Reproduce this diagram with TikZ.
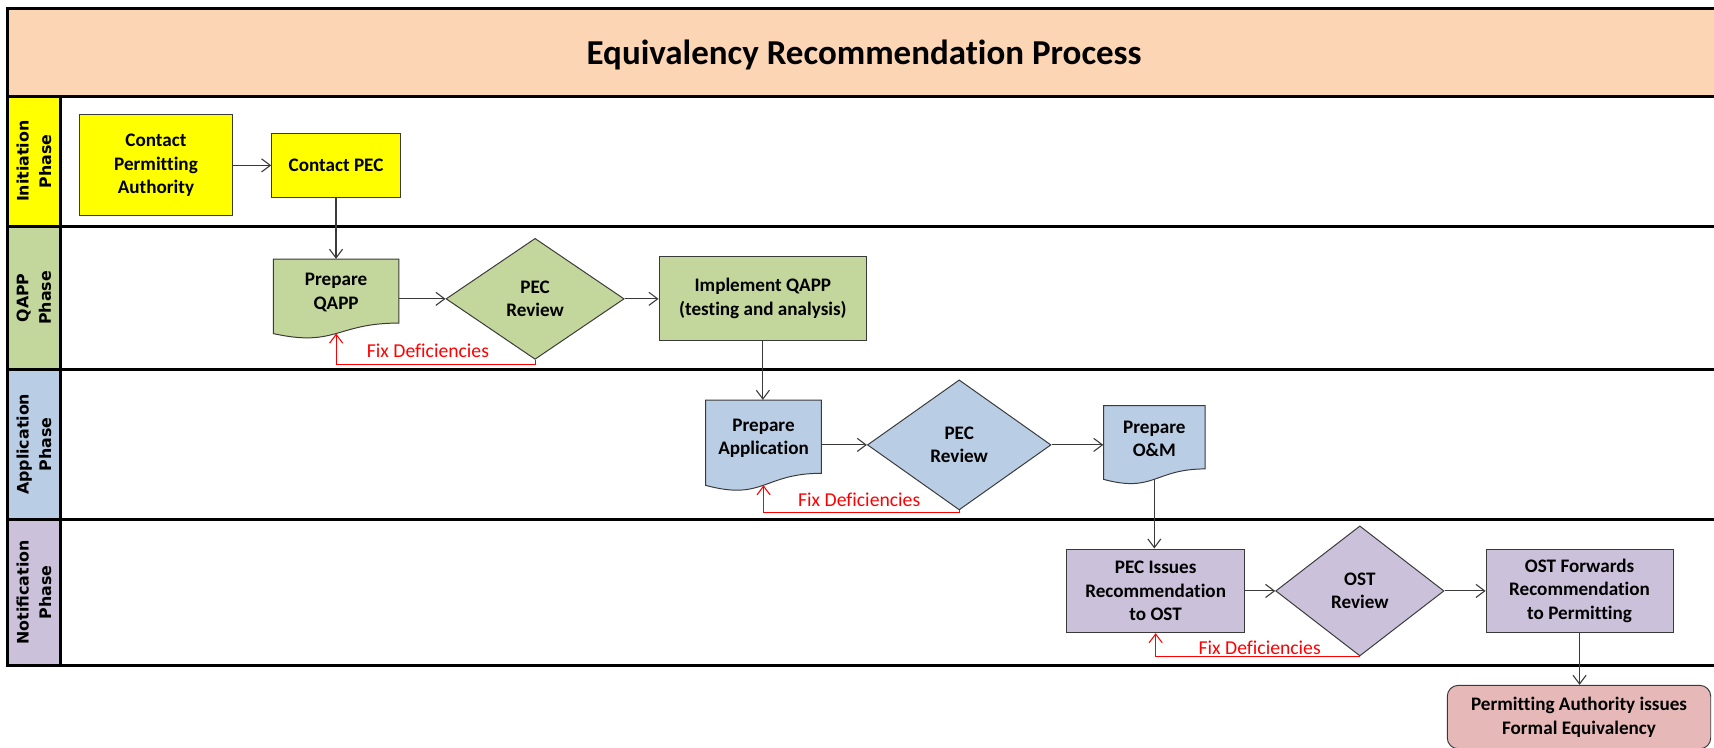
\documentclass[tikz,border=0pt]{standalone}
\usepackage{fontspec}
\setmainfont[Ligatures=NoCommon]{Carlito}
\newfontfamily\lanefont{DejaVu Sans}
\usetikzlibrary{shapes.geometric,arrows.meta,calc}
\definecolor{peach}{HTML}{FCD5B5}
\definecolor{ylw}{HTML}{FFFF00}
\definecolor{grn}{HTML}{C3D69B}
\definecolor{blu}{HTML}{B9CDE5}
\definecolor{prp}{HTML}{CCC1DA}
\definecolor{pnk}{HTML}{E6B9B8}
\definecolor{edge}{HTML}{3A3A3A}
\newcommand{\nodefont}{\bfseries\fontsize{17.5}{21.5}\selectfont}
\newcommand{\docnode}[7]{%
  \filldraw[boxline,fill=#6] ({#2-#4/2},#3) -- ({#2+#4/2},#3) -- ({#2+#4/2},{#3+0.802*#5})
    .. controls (#2,{#3+0.802*#5}) and (#2,{#3+1.1075*#5}) .. ({#2-#4/2},{#3+0.934*#5}) -- cycle;
  \node[doctext, minimum width=#4pt, minimum height={0.84*#5pt}] (#1) at (#2,{#3+0.42*#5}) {#7};
  \coordinate (#1-b) at (#2,{#3+0.933*#5});
}
\begin{document}
\begin{tikzpicture}[x=1pt,y=-1pt,
  boxline/.style={draw=edge, line width=0.9pt},
  box/.style={boxline, inner sep=0pt, align=center, font=\nodefont},
  doctext/.style={inner sep=0pt, align=center, font=\nodefont},
  dia/.style={boxline, diamond, inner sep=0pt, align=center, font=\nodefont},
  conn/.style={draw=edge, line width=1pt, -{Straight Barb[length=8pt,width=12pt]}},
  fixline/.style={draw=red, line width=1pt, -{Straight Barb[length=8pt,width=12pt]}},
  fixtext/.style={text=red, inner sep=0pt, font=\fontsize{18}{21}\selectfont},
  lane/.style={draw=black, line width=2.6pt},
  lanetext/.style={rotate=90, align=center, inner sep=0pt, font=\lanefont\bfseries\fontsize{14.5}{20.5}\selectfont}
]
\useasboundingbox (0,0) rectangle (1568,684);
% backgrounds
\fill[peach] (7,8) rectangle (1580,88);
\fill[ylw] (7,88) rectangle (55,207);
\fill[grn] (7,207) rectangle (55,338);
\fill[blu] (7,338) rectangle (55,475);
\fill[prp] (7,475) rectangle (55,609);
% frame
\draw[lane] (1580,8) -- (7,8) -- (7,609) -- (1580,609);
\foreach \yy in {88,207,338,475} \draw[lane] (7,\yy) -- (1580,\yy);
\draw[lane] (55,88) -- (55,609);
% title
\node[inner sep=0pt, font=\bfseries\fontsize{32}{38}\selectfont] (title) at (790.5,50) {Equivalency Recommendation Process};
% lane labels
\node[lanetext] (l1) at (31,147.5) {Initiation\\Phase};
\node[lanetext] (l2) at (31,272.5) {QAPP\\Phase};
\node[lanetext] (l3) at (31,406.5) {Application\\Phase};
\node[lanetext] (l4) at (31,542) {Notification\\Phase};
% initiation
\node[box, fill=ylw, minimum width=139.5pt, minimum height=92.5pt] (cpa) at (142.7,151.3) {Contact\\Permitting\\Authority};
\node[box, fill=ylw, minimum width=117.7pt, minimum height=58.5pt] (cpec) at (307.4,151.3) {Contact PEC};
% QAPP
\docnode{qapp}{307.5}{237}{115}{73}{grn}{Prepare\\QAPP}
\node[dia, fill=grn, minimum width=163pt, minimum height=110.7pt] (rev1) at (489.5,273.4) {PEC\\Review};
\node[box, fill=grn, minimum width=190pt, minimum height=77.5pt] (impl) at (697.9,273) {Implement QAPP\\(testing and analysis)};
% application
\docnode{app}{698.5}{366}{106}{83.5}{blu}{Prepare\\Application}
\node[dia, fill=blu, minimum width=168pt, minimum height=119pt] (rev2) at (877.5,407) {PEC\\Review};
\docnode{om}{1056}{371}{93}{72.3}{blu}{Prepare\\O\&M}
% notification
\node[box, fill=prp, minimum width=162.5pt, minimum height=76.5pt] (pecis) at (1057.2,540.5) {PEC Issues\\Recommendation\\to OST};
\node[dia, fill=prp, minimum width=154pt, minimum height=119pt] (rev3) at (1244,540.6) {OST\\Review};
\node[box, fill=prp, minimum width=171pt, minimum height=76.5pt] (ostf) at (1445,540.5) {OST Forwards\\Recommendation\\to Permitting};
\node[box, fill=pnk, rounded corners=10pt, minimum width=241pt, minimum height=58pt] (perm) at (1444.5,656) {Permitting Authority issues\\Formal Equivalency};
% connectors
\draw[conn] (cpa.east) -- (cpec.west);
\draw[conn] (cpec.south) -- (cpec.south |- qapp.north);
\draw[conn] (qapp.east |- rev1.west) -- (rev1.west);
\draw[conn] (rev1.east) -- (impl.west |- rev1.east);
\draw[conn] (impl.south) -- (impl.south |- app.north);
\draw[conn] (app.east |- rev2.west) -- (rev2.west);
\draw[conn] (rev2.east) -- (om.west |- rev2.east);
\draw[conn] (om-b) -- (om-b |- pecis.north);
\draw[conn] (pecis.east |- rev3.west) -- (rev3.west);
\draw[conn] (rev3.east) -- (ostf.west |- rev3.east);
\draw[conn] (ostf.south) -- (ostf.south |- perm.north);
% fix deficiencies
\draw[fixline] (rev1.south) -- ++(0,4) -| (qapp-b);
\draw[fixline] (rev2.south) -- ++(0,2) -| (app-b);
\draw[fixline] (rev3.south) -| (pecis.south);
\node[fixtext] (fd1) at (391.5,321) {Fix Deficiencies};
\node[fixtext] (fd2) at (786,457) {Fix Deficiencies};
\node[fixtext] (fd3) at (1152.4,592.7) {Fix Deficiencies};
\end{tikzpicture}
\end{document}
